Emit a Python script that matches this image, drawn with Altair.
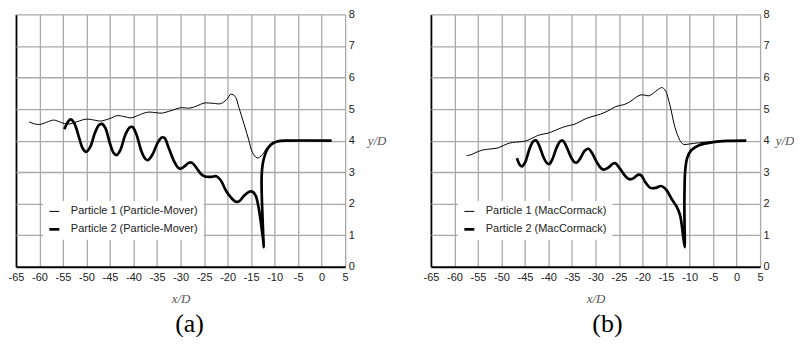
import altair as alt
import pandas as pd

# ---------------- Panel (a): Particle-Mover ----------------
a_p1_x = [-62.2, -61.0, -60.0, -58.5, -57.0, -55.5, -54.0, -52.0, -50.0, -48.0, -47.0, -45.0,
          -43.5, -42.0, -40.5, -39.0, -37.0, -35.0, -34.0, -32.0, -30.0, -28.0, -26.5, -25.0,
          -23.0, -21.5, -20.2, -19.3, -18.4, -17.6, -16.5, -15.5, -14.7, -13.7, -12.6, -11.6,
          -10.2, -8.0, -5.0, 2.1]
a_p1_y = [4.59, 4.53, 4.51, 4.58, 4.65, 4.58, 4.52, 4.60, 4.68, 4.64, 4.62, 4.70,
          4.79, 4.76, 4.72, 4.80, 4.90, 4.88, 4.87, 4.95, 5.04, 5.03, 5.10, 5.19,
          5.18, 5.17, 5.30, 5.47, 5.40, 5.05, 4.52, 4.02, 3.62, 3.45, 3.55, 3.78,
          3.94, 4.00, 4.00, 4.00]

a_p2_x = [-54.7, -54.0, -53.4, -52.6, -51.6, -50.8, -50.1, -49.2, -48.2, -47.3, -46.7, -46.0,
          -45.0, -44.2, -43.6, -42.8, -41.7, -40.8, -40.2, -39.4, -38.3, -37.5, -36.9, -36.0,
          -34.8, -34.0, -33.4, -32.6, -31.4, -30.5, -30.0, -29.2, -28.3, -27.6, -26.7, -25.6,
          -24.8, -23.5, -22.4, -21.5, -20.3, -19.3, -18.2, -17.5, -16.5, -15.4, -14.7, -14.0,
          -13.5, -13.1, -12.7, -12.4, -12.3, -12.45, -12.6, -12.75, -12.75, -12.5, -12.0, -11.3,
          -10.2, -8.8, -7.0, 2.1]
a_p2_y = [4.36, 4.58, 4.67, 4.55, 4.10, 3.75, 3.64, 3.80, 4.25, 4.50, 4.53, 4.40,
          3.90, 3.60, 3.54, 3.70, 4.20, 4.42, 4.43, 4.20, 3.65, 3.42, 3.38, 3.55,
          3.95, 4.10, 4.08, 3.80, 3.35, 3.14, 3.11, 3.18, 3.29, 3.30, 3.15, 2.93,
          2.86, 2.85, 2.87, 2.75, 2.40, 2.20, 2.06, 2.08, 2.25, 2.38, 2.38, 2.25,
          1.95, 1.60, 1.15, 0.80, 0.62, 1.10, 1.70, 2.40, 2.90, 3.28, 3.57, 3.78,
          3.93, 3.99, 4.00, 4.00]

# ---------------- Panel (b): MacCormack ----------------
b_p1_x = [-57.4, -56.5, -55.6, -54.3, -53.2, -52.0, -50.7, -49.5, -48.3, -47.0, -45.5, -44.4,
          -43.3, -42.3, -41.0, -40.0, -38.6, -37.0, -35.5, -34.6, -33.3, -32.0, -30.3, -28.9,
          -27.5, -26.3, -25.4, -24.0, -23.3, -22.2, -21.2, -20.3, -19.5, -18.6, -17.3, -16.6,
          -15.9, -15.2, -14.2, -13.1, -12.05, -11.3, -10.6, -9.2, -5.7, -2.0, 2.05]
b_p1_y = [3.52, 3.55, 3.61, 3.69, 3.72, 3.74, 3.77, 3.85, 3.92, 3.95, 3.97, 4.01,
          4.09, 4.16, 4.21, 4.24, 4.32, 4.42, 4.48, 4.51, 4.60, 4.70, 4.78, 4.84,
          4.93, 5.03, 5.09, 5.14, 5.18, 5.28, 5.39, 5.45, 5.44, 5.42, 5.55, 5.63,
          5.68, 5.60, 5.14, 4.42, 4.01, 3.88, 3.88, 3.91, 3.96, 3.99, 4.00]

b_p2_x = [-46.7, -46.2, -45.65, -45.0, -44.0, -43.2, -42.6, -42.0, -41.0, -40.3, -39.8, -39.2,
          -38.2, -37.5, -37.0, -36.3, -35.3, -34.6, -34.05, -33.3, -32.3, -31.5, -30.8, -29.6,
          -28.8, -28.2, -27.2, -26.3, -25.76, -25.0, -23.8, -23.0, -22.6, -21.8, -20.9, -20.3,
          -19.4, -18.6, -18.0, -17.2, -16.1, -15.5, -14.85, -13.8, -12.8, -12.05, -11.6, -11.3,
          -11.0, -11.05, -11.1, -11.05, -10.95, -10.5, -9.6, -7.84, -5.0, -2.0, 2.05]
b_p2_y = [3.44, 3.25, 3.18, 3.30, 3.75, 3.98, 4.00, 3.85, 3.45, 3.28, 3.26, 3.40,
          3.80, 3.98, 4.00, 3.85, 3.50, 3.33, 3.30, 3.42, 3.68, 3.74, 3.62, 3.28,
          3.12, 3.08, 3.15, 3.27, 3.28, 3.15, 2.90, 2.79, 2.77, 2.82, 2.92, 2.90,
          2.68, 2.53, 2.49, 2.50, 2.56, 2.52, 2.42, 2.15, 1.92, 1.65, 1.25, 0.90,
          0.62, 1.20, 1.96, 2.60, 3.00, 3.45, 3.70, 3.86, 3.95, 3.99, 4.00]

x_ticks = list(range(-65, 6, 5))
y_ticks = list(range(0, 9))

GRID = "#a9a9a9"
SANS = "Liberation Sans"
SERIF = "Liberation Serif"
W, H = 330, 253


def make_df(x1, y1, n1, x2, y2, n2):
    rows = []
    for i, (x, y) in enumerate(zip(x1, y1)):
        rows.append({"x": x, "y": y, "series": n1, "order": i})
    for i, (x, y) in enumerate(zip(x2, y2)):
        rows.append({"x": x, "y": y, "series": n2, "order": i})
    return pd.DataFrame(rows)


def panel(df, n1, n2, caption, dx, ytitle_pad):
    return alt.Chart(df).mark_line(color="black", interpolate="catmull-rom").encode(
        x=alt.X("x:Q",
                scale=alt.Scale(domain=[-65, 5], nice=False, zero=False),
                axis=alt.Axis(values=x_ticks, title="x/D", grid=True,
                              labelExpr="'' + datum.value",
                              gridColor={"condition": {"test": "datum.value === -65", "value": "black"}, "value": GRID},
                              gridWidth={"condition": {"test": "datum.value === -65", "value": 1.8}, "value": 1.3},
                              domain=False, ticks=False, labelFlush=False, labelOverlap=False,
                              labelPadding=5, labelFont=SANS, labelFontSize=11, labelColor="#222",
                              titleFont=SERIF, titleFontStyle="italic", titleFontWeight="normal",
                              titleFontSize=13, titleColor="#555", titlePadding=10)),
        y=alt.Y("y:Q",
                scale=alt.Scale(domain=[0, 8], nice=False, zero=False),
                axis=alt.Axis(orient="right", values=y_ticks, title="y/D", grid=True,
                              labelExpr="'' + datum.value",
                              gridColor={"condition": {"test": "datum.value === 0", "value": "black"}, "value": GRID},
                              gridWidth={"condition": {"test": "datum.value === 0", "value": 1.8}, "value": 1.3},
                              domain=False, ticks=False, labelFlush=False, labelOverlap=False,
                              labelPadding=3, labelFont=SANS, labelFontSize=11, labelColor="#222",
                              titleAngle=0, titleAlign="left", titleBaseline="middle",
                              titleFont=SERIF, titleFontStyle="italic", titleFontWeight="normal",
                              titleFontSize=13, titleColor="#555", titlePadding=ytitle_pad)),
        strokeWidth=alt.StrokeWidth("series:N",
                                    scale=alt.Scale(domain=[n1, n2], range=[1.0, 2.7]),
                                    legend=alt.Legend(orient="none", legendX=27, legendY=187,
                                                      title=None, fillColor="white", padding=5,
                                                      symbolType="stroke", symbolStrokeColor="black",
                                                      symbolSize=100, labelFont=SANS, labelFontSize=11,
                                                      labelColor="#222", labelOffset=10, rowPadding=6)),
        order="order:Q",
    ).properties(
        width=W, height=H,
        title=alt.TitleParams(caption, orient="bottom", anchor="middle", font=SERIF,
                              fontSize=26, fontWeight="normal", color="black", offset=5, dx=dx),
    )


a_n1, a_n2 = "Particle 1 (Particle-Mover)", "Particle 2 (Particle-Mover)"
b_n1, b_n2 = "Particle 1 (MacCormack)", "Particle 2 (MacCormack)"

left = panel(make_df(a_p1_x, a_p1_y, a_n1, a_p2_x, a_p2_y, a_n2), a_n1, a_n2, "(a)", 9, 13)
right = panel(make_df(b_p1_x, b_p1_y, b_n1, b_p2_x, b_p2_y, b_n2), b_n1, b_n2, "(b)", 12, 6)

chart = alt.hconcat(left, right, spacing=86, bounds="flush").resolve_scale(
    strokeWidth="independent"
).resolve_legend(
    strokeWidth="independent"
).properties(
    padding={"left": 0, "top": 0, "right": 0, "bottom": 0},
    background="white",
).configure_view(stroke=None)

chart.save("out.html", embed_options={"renderer": "svg", "actions": False})
